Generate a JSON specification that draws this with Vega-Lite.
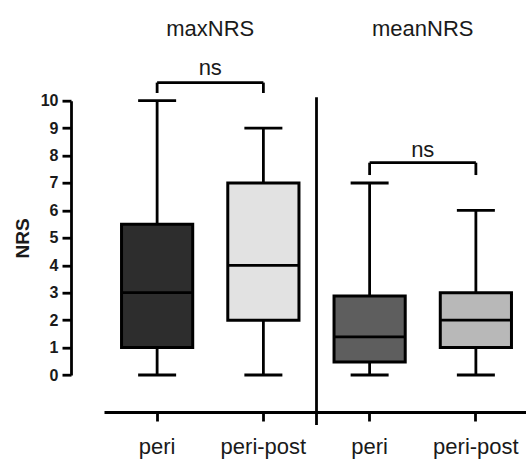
{
  "$schema": "https://vega.github.io/schema/vega-lite/v6.json",
  "width": 422,
  "height": 274.3,
  "autosize": {"type": "none"},
  "padding": {"left": 104, "top": 100.7, "right": 0, "bottom": 84},
  "config": {
    "view": {"stroke": null},
    "font": "Liberation Sans",
    "axisX": {
      "orient": "bottom", "offset": 37,
      "domainColor": "black", "domainWidth": 2.8,
      "tickColor": "black", "tickWidth": 2.8, "tickSize": 9,
      "labelAngle": 0, "labelFontSize": 22, "labelColor": "#1a1a1a",
      "labelBaseline": "alphabetic", "labelPadding": 32,
      "labelExpr": "slice(datum.label, indexof(datum.label, ':') + 1)"
    },
    "axisY": {
      "offset": 33, "grid": false,
      "domainColor": "black", "domainWidth": 2.8,
      "tickColor": "black", "tickWidth": 2.8, "tickSize": 9,
      "labelFontSize": 16, "labelFontWeight": "bold", "labelColor": "#1a1a1a", "labelPadding": 4,
      "titleFontSize": 19, "titleFontWeight": "bold", "titleColor": "#1a1a1a", "titlePadding": 8
    }
  },
  "datasets": {
    "boxes": [
      {"key": "maxNRS:peri", "min": 0, "q1": 1, "median": 3, "q3": 5.5, "max": 10},
      {"key": "maxNRS:peri-post", "min": 0, "q1": 2, "median": 4, "q3": 7, "max": 9},
      {"key": "meanNRS:peri", "min": 0, "q1": 0.47, "median": 1.39, "q3": 2.88, "max": 7},
      {"key": "meanNRS:peri-post", "min": 0, "q1": 1, "median": 2, "q3": 3, "max": 6}
    ],
    "brackets": [
      {"left": "maxNRS:peri", "right": "maxNRS:peri-post", "y": 10.66, "drop": 10.28, "label": "ns", "labelY": 10.94},
      {"left": "meanNRS:peri", "right": "meanNRS:peri-post", "y": 7.74, "drop": 7.29, "label": "ns", "labelY": 7.95}
    ],
    "titles": [
      {"key": "maxNRS:peri", "text": "maxNRS", "y": 12.36},
      {"key": "meanNRS:peri", "text": "meanNRS", "y": 12.36}
    ],
    "divider": [{"key": "maxNRS:peri-post", "top": 10.13, "bottom": -1.82}]
  },
  "layer": [
    {
      "data": {"name": "boxes"},
      "mark": {"type": "rule", "color": "black", "strokeWidth": 2.8},
      "encoding": {
        "x": {
          "field": "key", "type": "nominal", "sort": null,
          "scale": {"domain": ["maxNRS:peri", "maxNRS:peri-post", "meanNRS:peri", "meanNRS:peri-post"], "range": [0, 425], "paddingInner": 0, "paddingOuter": 0},
          "axis": {
            "title": null, "orient": "bottom", "offset": 37,
            "domainColor": "black", "domainWidth": 2.8,
            "tickColor": "black", "tickWidth": 2.8, "tickSize": 9,
            "labelAngle": 0, "labelFontSize": 22, "labelColor": "#1a1a1a",
            "labelBaseline": "alphabetic", "labelPadding": 32,
            "labelExpr": "slice(datum.label, indexof(datum.label, ':') + 1)"
          }
        },
        "y": {
          "field": "min", "type": "quantitative",
          "scale": {"domain": [0, 10], "nice": false, "zero": false},
          "axis": {
            "title": "NRS", "orient": "left", "offset": 33, "grid": false,
            "values": [0, 1, 2, 3, 4, 5, 6, 7, 8, 9, 10], "tickCount": 11,
            "domainColor": "black", "domainWidth": 2.8,
            "tickColor": "black", "tickWidth": 2.8, "tickSize": 9,
            "labelFontSize": 16, "labelFontWeight": "bold", "labelColor": "#1a1a1a", "labelPadding": 4,
            "titleFontSize": 19, "titleFontWeight": "bold", "titleColor": "#1a1a1a", "titlePadding": 8
          }
        },
        "y2": {"field": "max"}
      }
    },
    {
      "data": {"name": "boxes"},
      "mark": {"type": "tick", "color": "black", "opacity": 1, "size": 38, "thickness": 2.8, "orient": "horizontal"},
      "encoding": {
        "x": {"field": "key", "type": "nominal", "sort": null},
        "y": {"field": "min", "type": "quantitative"}
      }
    },
    {
      "data": {"name": "boxes"},
      "mark": {"type": "tick", "color": "black", "opacity": 1, "size": 38, "thickness": 2.8, "orient": "horizontal"},
      "encoding": {
        "x": {"field": "key", "type": "nominal", "sort": null},
        "y": {"field": "max", "type": "quantitative"}
      }
    },
    {
      "data": {"name": "boxes"},
      "mark": {"type": "bar", "width": {"band": 0.67}, "stroke": "black", "strokeWidth": 3, "opacity": 1},
      "encoding": {
        "x": {"field": "key", "type": "nominal", "sort": null},
        "y": {"field": "q1", "type": "quantitative"},
        "y2": {"field": "q3"},
        "fill": {
          "field": "key", "type": "nominal", "legend": null,
          "scale": {"domain": ["maxNRS:peri", "maxNRS:peri-post", "meanNRS:peri", "meanNRS:peri-post"], "range": ["#2d2d2d", "#e2e2e2", "#5e5e5e", "#b8b8b8"]}
        }
      }
    },
    {
      "data": {"name": "boxes"},
      "mark": {"type": "tick", "color": "black", "opacity": 1, "size": 71, "thickness": 2.8, "orient": "horizontal"},
      "encoding": {
        "x": {"field": "key", "type": "nominal", "sort": null},
        "y": {"field": "median", "type": "quantitative"}
      }
    },
    {
      "data": {"name": "divider"},
      "mark": {"type": "rule", "color": "black", "strokeWidth": 2.8},
      "encoding": {
        "x": {"field": "key", "type": "nominal", "sort": null, "bandPosition": 1},
        "y": {"field": "top", "type": "quantitative"},
        "y2": {"field": "bottom"}
      }
    },
    {
      "data": {"name": "brackets"},
      "mark": {"type": "rule", "color": "black", "strokeWidth": 2.8},
      "encoding": {
        "x": {"field": "left", "type": "nominal", "sort": null},
        "x2": {"field": "right"},
        "y": {"field": "y", "type": "quantitative"}
      }
    },
    {
      "data": {"name": "brackets"},
      "transform": [{"fold": ["left", "right"], "as": ["side", "end"]}],
      "mark": {"type": "rule", "color": "black", "strokeWidth": 2.8},
      "encoding": {
        "x": {"field": "end", "type": "nominal", "sort": null},
        "y": {"field": "y", "type": "quantitative"},
        "y2": {"field": "drop"}
      }
    },
    {
      "data": {"name": "brackets"},
      "mark": {"type": "text", "fontSize": 22, "color": "#1a1a1a", "align": "center", "baseline": "alphabetic"},
      "encoding": {
        "x": {"field": "left", "type": "nominal", "sort": null, "bandPosition": 1},
        "y": {"field": "labelY", "type": "quantitative"},
        "text": {"field": "label"}
      }
    },
    {
      "data": {"name": "titles"},
      "mark": {"type": "text", "fontSize": 22, "color": "#1a1a1a", "align": "center", "baseline": "alphabetic"},
      "encoding": {
        "x": {"field": "key", "type": "nominal", "sort": null, "bandPosition": 1},
        "y": {"field": "y", "type": "quantitative"},
        "text": {"field": "text"}
      }
    }
  ]
}
